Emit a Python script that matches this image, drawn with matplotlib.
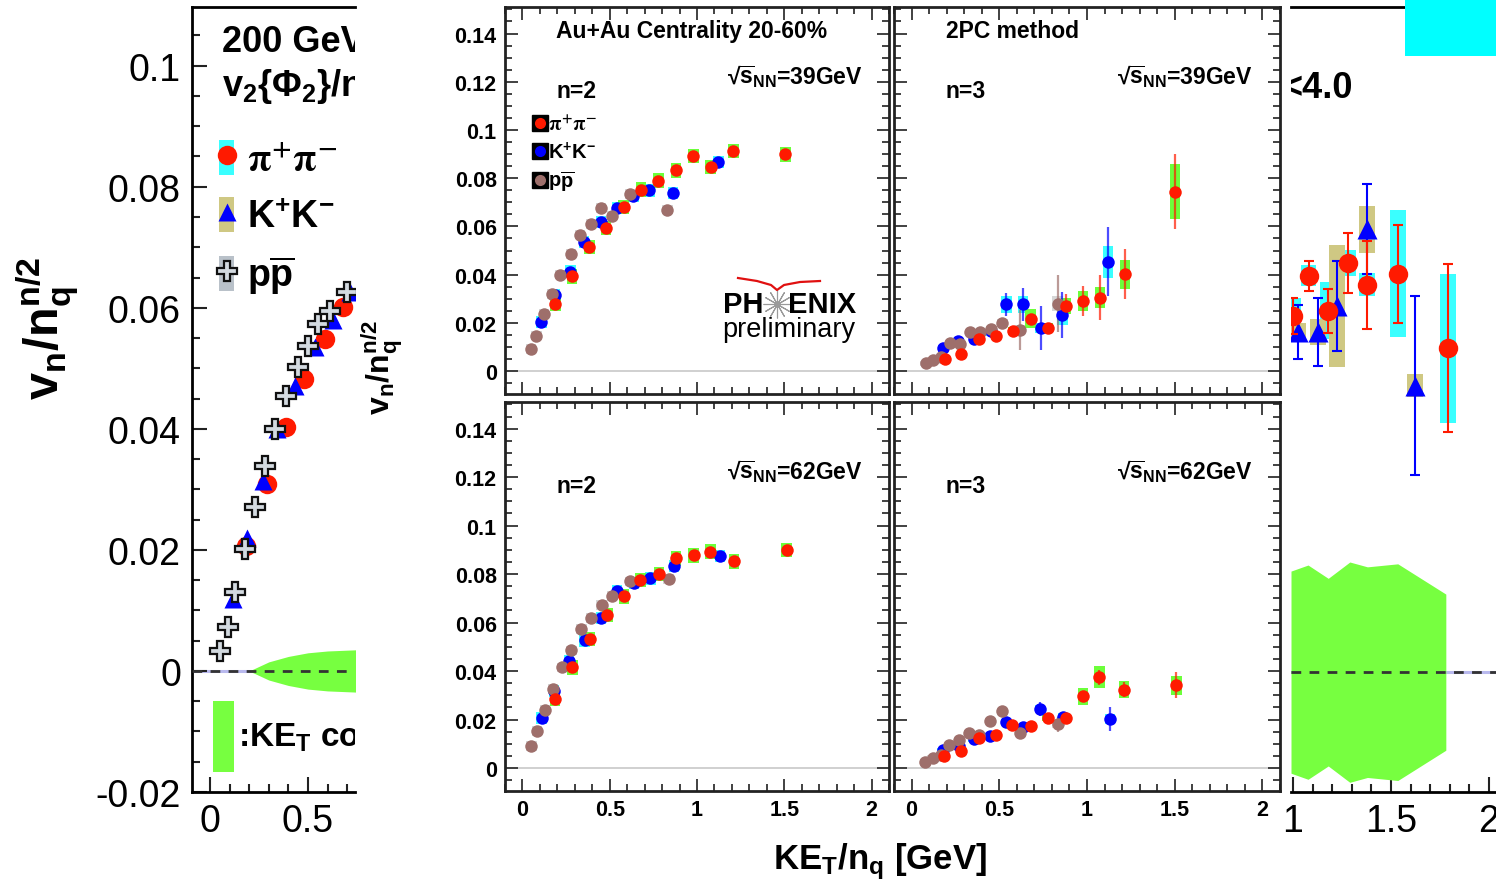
import numpy as np
import matplotlib
matplotlib.use('Agg')
import matplotlib.pyplot as plt
from matplotlib.patches import Rectangle
from matplotlib.lines import Line2D
from matplotlib.ticker import MultipleLocator, FuncFormatter

plt.rcParams['font.family'] = ['Liberation Sans', 'DejaVu Sans']
plt.rcParams['font.weight'] = 'bold'
plt.rcParams['mathtext.fontset'] = 'custom'
plt.rcParams['mathtext.rm'] = 'Liberation Sans:bold'
plt.rcParams['mathtext.it'] = 'Liberation Sans:bold'
plt.rcParams['mathtext.bf'] = 'Liberation Sans:bold'
plt.rcParams['mathtext.sf'] = 'Liberation Sans:bold'

RED = '#ff1a00'
BLUE = '#0000ff'
BROWN = '#9e6f6b'
GREEN = '#6cff3a'
CYAN = '#3affff'
OLIVE = '#cfc883'
LGREY = '#d6d6d6'
BAND = '#77ff40'

# ---------------- 200 GeV panel (left, cropped) ----------------
l_pi_x = [0.184, 0.29, 0.39, 0.48, 0.587, 0.68]
l_pi_y = [0.0207, 0.0309, 0.0403, 0.0483, 0.0549, 0.0602]
l_k_x = [0.117, 0.189, 0.27, 0.34, 0.434, 0.536, 0.628, 0.714]
l_k_y = [0.0119, 0.022, 0.0314, 0.040, 0.047, 0.0535, 0.058, 0.0626]
l_p_x = [0.051, 0.09, 0.127, 0.179, 0.23, 0.281, 0.332, 0.39, 0.45, 0.50, 0.551, 0.612, 0.70]
l_p_y = [0.0033, 0.0073, 0.013, 0.0202, 0.0271, 0.0339, 0.040, 0.0455, 0.0502, 0.0537, 0.0574, 0.0595, 0.0626]
l_band_x = [0.2, 0.3, 0.4, 0.5, 0.6, 0.75]
l_band_w = [0.0, 0.0015, 0.0024, 0.003, 0.0033, 0.0035]

# ---------------- right panel (cropped) ----------------
r_pi_x = [1.0, 1.08, 1.18, 1.28, 1.378, 1.536, 1.79]
r_pi_y = [0.0589, 0.0655, 0.0597, 0.0676, 0.064, 0.0658, 0.0535]
r_pi_stat = [0.003, 0.0025, 0.0036, 0.005, 0.0073, 0.0081, 0.0139]
r_pi_sys = [0.003, 0.0017, 0.0047, 0.0022, 0.0019, 0.0105, 0.0123]
r_k_x = [1.026, 1.128, 1.225, 1.378, 1.622]
r_k_y = [0.0562, 0.0562, 0.0605, 0.0732, 0.0473]
r_k_stat = [0.0044, 0.0056, 0.0074, 0.0074, 0.0148]
r_k_sys = [0.0015, 0.0022, 0.0101, 0.0039, 0.0019]
r_band_x = [0.99, 1.077, 1.18, 1.29, 1.38, 1.535, 1.78]
r_band_w = [0.0167, 0.0177, 0.0155, 0.0182, 0.0174, 0.0179, 0.0129]

# ---------------- 39 GeV, n=2 ----------------
t2_pi_x = [0.189, 0.284, 0.383, 0.48, 0.579, 0.68, 0.779, 0.88, 0.979, 1.078, 1.208, 1.507]
t2_pi_y = [0.0278, 0.0393, 0.0514, 0.0593, 0.068, 0.0753, 0.079, 0.0832, 0.0892, 0.0846, 0.0913, 0.0899]
t2_k_x = [0.108, 0.185, 0.274, 0.354, 0.451, 0.541, 0.636, 0.727, 0.861, 1.122]
t2_k_y = [0.0202, 0.0317, 0.0413, 0.0537, 0.062, 0.0677, 0.0728, 0.0749, 0.0738, 0.0867]
t2_p_x = [0.05, 0.08, 0.122, 0.17, 0.217, 0.278, 0.331, 0.392, 0.451, 0.512, 0.617, 0.83]
t2_p_y = [0.0091, 0.0147, 0.0237, 0.032, 0.04, 0.0486, 0.0566, 0.0611, 0.0676, 0.0645, 0.0735, 0.067]

# ---------------- 62 GeV, n=2 ----------------
b2_pi_x = [0.185, 0.286, 0.387, 0.486, 0.581, 0.676, 0.781, 0.88, 0.981, 1.076, 1.213, 1.514]
b2_pi_y = [0.0285, 0.0415, 0.0533, 0.0631, 0.0708, 0.0775, 0.08, 0.0865, 0.0877, 0.0893, 0.0852, 0.09]
b2_k_x = [0.11, 0.181, 0.267, 0.356, 0.451, 0.543, 0.638, 0.733, 0.867, 1.133]
b2_k_y = [0.0208, 0.0318, 0.044, 0.0526, 0.0618, 0.0731, 0.0762, 0.0782, 0.0835, 0.0874]
b2_p_x = [0.051, 0.082, 0.128, 0.175, 0.229, 0.28, 0.337, 0.394, 0.453, 0.514, 0.619, 0.838]
b2_p_y = [0.0091, 0.0152, 0.024, 0.0327, 0.0415, 0.0485, 0.0572, 0.0618, 0.0672, 0.071, 0.077, 0.078]
n2_sys = {'pi': 0.003, 'k': 0.0025, 'p': 0.002}

# ---------------- 39 GeV, n=3 ----------------
t3_pi_x = [0.188, 0.284, 0.384, 0.479, 0.578, 0.679, 0.778, 0.879, 0.978, 1.073, 1.216, 1.501]
t3_pi_y = [0.0049, 0.0069, 0.0132, 0.0146, 0.0166, 0.0218, 0.018, 0.027, 0.0291, 0.0305, 0.0402, 0.0744]
t3_pi_stat = [0.001, 0.001, 0.001, 0.001, 0.002, 0.002, 0.002, 0.005, 0.0062, 0.0094, 0.0105, 0.0156]
t3_pi_sys = [0.001, 0.001, 0.001, 0.001, 0.0015, 0.004, 0.002, 0.0035, 0.004, 0.0045, 0.006, 0.0113]
t3_k_x = [0.179, 0.267, 0.356, 0.455, 0.54, 0.636, 0.735, 0.86, 1.12]
t3_k_y = [0.0097, 0.0125, 0.0135, 0.0166, 0.0277, 0.0277, 0.018, 0.0231, 0.0454]
t3_k_stat = [0.001, 0.001, 0.001, 0.002, 0.0048, 0.0069, 0.0091, 0.0095, 0.0142]
t3_k_sys = [0.001, 0.001, 0.001, 0.002, 0.0035, 0.0035, 0.002, 0.004, 0.0066]
t3_p_x = [0.08, 0.122, 0.17, 0.221, 0.274, 0.332, 0.389, 0.455, 0.518, 0.617, 0.832]
t3_p_y = [0.0032, 0.0044, 0.0058, 0.0118, 0.0111, 0.0162, 0.0162, 0.0173, 0.0201, 0.017, 0.028]
t3_p_stat = [0.0, 0.0, 0.0, 0.001, 0.001, 0.001, 0.001, 0.002, 0.002, 0.0083, 0.0118]
t3_p_sys = [0.001, 0.001, 0.001, 0.001, 0.001, 0.001, 0.001, 0.0015, 0.0015, 0.002, 0.003]

# ---------------- 62 GeV, n=3 ----------------
b3_pi_x = [0.187, 0.282, 0.386, 0.481, 0.573, 0.681, 0.776, 0.881, 0.976, 1.071, 1.21, 1.509]
b3_pi_y = [0.0048, 0.0071, 0.0122, 0.0138, 0.0177, 0.0173, 0.0208, 0.0205, 0.0295, 0.0374, 0.0323, 0.0341]
b3_pi_stat = [0.0005, 0.0005, 0.0005, 0.001, 0.001, 0.001, 0.001, 0.002, 0.002, 0.003, 0.003, 0.0053]
b3_pi_sys = [0.001, 0.001, 0.001, 0.001, 0.001, 0.001, 0.0015, 0.0015, 0.0035, 0.0045, 0.0035, 0.0038]
b3_k_x = [0.177, 0.268, 0.354, 0.447, 0.539, 0.637, 0.733, 0.862, 1.132]
b3_k_y = [0.0073, 0.0091, 0.0118, 0.0132, 0.0191, 0.0168, 0.0244, 0.0212, 0.0202]
b3_k_stat = [0.0, 0.0, 0.0, 0.0, 0.001, 0.001, 0.003, 0.002, 0.0051]
b3_k_sys = [0.001, 0.001, 0.001, 0.001, 0.001, 0.001, 0.0015, 0.0015, 0.002]
b3_p_x = [0.078, 0.12, 0.167, 0.215, 0.272, 0.329, 0.386, 0.449, 0.516, 0.618, 0.833]
b3_p_y = [0.0025, 0.0043, 0.0055, 0.0094, 0.0115, 0.0145, 0.0136, 0.0195, 0.0235, 0.0145, 0.018]
b3_p_stat = [0.0, 0.0, 0.0, 0.0, 0.0, 0.0, 0.0, 0.0, 0.0, 0.001, 0.003]
b3_p_sys = [0.001, 0.001, 0.001, 0.001, 0.001, 0.001, 0.001, 0.001, 0.001, 0.001, 0.0015]

W, H = 1496, 887
fig = plt.figure(figsize=(W / 100, H / 100), dpi=100)


def rect(l, t, r, b):
    return [l / W, 1 - b / H, (r - l) / W, (b - t) / H]


def frac(ax, px, py):
    p = ax.get_position()
    return (px / W - p.x0) / p.width, (1 - py / H - p.y0) / p.height


def ptext(ax, px, py, s, **kw):
    fx, fy = frac(ax, px, py)
    return ax.text(fx, fy, s, transform=ax.transAxes, **kw)


def series(ax, x, y, color, boxc, sys, stat=None, ms=9, marker='o'):
    x = np.asarray(x)
    y = np.asarray(y)
    sys = np.broadcast_to(np.asarray(sys, dtype=float), y.shape)
    ax.bar(x, 2 * sys, bottom=y - sys, width=0.06, color=boxc, lw=0, zorder=1)
    if stat is not None:
        ax.errorbar(x, y, yerr=stat, fmt='none', ecolor=color, elinewidth=1.6, alpha=0.7, zorder=2)
    ax.plot(x, y, ls='none', marker=marker, color=color, ms=ms, mec='none', zorder=3)


fmt = FuncFormatter(lambda v, p: '%g' % (round(v, 3) + 0.0))


def style_mid(ax, xlab, ylab):
    ax.set_xlim(-0.1, 2.1)
    ax.set_ylim(-0.0095, 0.151)
    ax.xaxis.set_major_locator(MultipleLocator(0.5))
    ax.xaxis.set_minor_locator(MultipleLocator(0.1))
    ax.yaxis.set_major_locator(MultipleLocator(0.02))
    ax.yaxis.set_minor_locator(MultipleLocator(0.005))
    ax.xaxis.set_major_formatter(fmt)
    ax.yaxis.set_major_formatter(fmt)
    ax.tick_params(which='both', direction='in', top=True, right=True, width=1.3,
                   color='#333333', labelsize=15.5)
    ax.tick_params(which='major', length=9, pad=6)
    ax.tick_params(which='minor', length=5)
    ax.tick_params(labelbottom=xlab, labelleft=ylab)
    for s in ax.spines.values():
        s.set_linewidth(2)
        s.set_color('#222222')
    ax.axhline(0, color='#c8c8c8', lw=1.2, zorder=0)


# ---------------- middle 2x2 panels ----------------
axTL = fig.add_axes(rect(505, 8, 889, 395))
axTR = fig.add_axes(rect(894, 8, 1280, 395))
axBL = fig.add_axes(rect(505, 403, 889, 792))
axBR = fig.add_axes(rect(894, 403, 1280, 792))
style_mid(axTL, False, True)
style_mid(axTR, False, False)
style_mid(axBL, True, True)
style_mid(axBR, True, False)

series(axTL, t2_k_x, t2_k_y, BLUE, CYAN, n2_sys['k'])
series(axTL, t2_p_x, t2_p_y, BROWN, LGREY, n2_sys['p'])
series(axTL, t2_pi_x, t2_pi_y, RED, GREEN, n2_sys['pi'])
series(axBL, b2_k_x, b2_k_y, BLUE, CYAN, n2_sys['k'])
series(axBL, b2_p_x, b2_p_y, BROWN, LGREY, n2_sys['p'])
series(axBL, b2_pi_x, b2_pi_y, RED, GREEN, n2_sys['pi'])
series(axTR, t3_k_x, t3_k_y, BLUE, CYAN, t3_k_sys, t3_k_stat)
series(axTR, t3_p_x, t3_p_y, BROWN, LGREY, t3_p_sys, t3_p_stat)
series(axTR, t3_pi_x, t3_pi_y, RED, GREEN, t3_pi_sys, t3_pi_stat)
series(axBR, b3_k_x, b3_k_y, BLUE, CYAN, b3_k_sys, b3_k_stat)
series(axBR, b3_p_x, b3_p_y, BROWN, LGREY, b3_p_sys, b3_p_stat)
series(axBR, b3_pi_x, b3_pi_y, RED, GREEN, b3_pi_sys, b3_pi_stat)

ptext(axTL, 556, 31, "Au+Au Centrality 20-60%", fontsize=16.5, va='center')
ptext(axTR, 946, 31, "2PC method", fontsize=16.5, va='center')
for ax, px, py, n, e in [(axTL, 556, 92, 2, 39), (axTR, 946, 92, 3, 39),
                         (axBL, 556, 487, 2, 62), (axBR, 946, 487, 3, 62)]:
    ptext(ax, px, py, "n=%d" % n, fontsize=16.5, va='center')
    ptext(ax, px + 307, py - 15, "\u221a" + r"$\overline{\rm s}_{\rm NN}$=%dGeV" % e,
          fontsize=16.5, va='center', ha='right')

mid_handles = [(Line2D([], [], ls='none', marker='s', color='k', ms=11),
                Line2D([], [], ls='none', marker='o', color=c, ms=8, mec='none'))
               for c in (RED, BLUE, BROWN)]
leg = axTL.legend(mid_handles, [r"$\mathrm{\pi^{+}\pi^{-}}$", r"K$^{+}$K$^{-}$", r"p$\overline{\rm p}$"],
                  loc='upper left', bbox_to_anchor=frac(axTL, 534, 115), frameon=False,
                  fontsize=14.5, handlelength=0.6, handletextpad=0.1, labelspacing=0.32,
                  borderaxespad=0, borderpad=0)
leg.get_texts()[0].set_math_fontfamily('stix')

# PHENIX preliminary logo
ptext(axTL, 723, 305, "PH", fontsize=21, va='center')
ptext(axTL, 788, 305, "ENIX", fontsize=21, va='center')
sx, sy = frac(axTL, 777, 305)
axTL.plot([sx], [sy], marker=(12, 2, 0), ms=20, mec='#9a9a9a', mew=0.8, transform=axTL.transAxes)
sw = np.array([[738, 279], [757, 282], [771, 286], [777, 291], [784, 286], [800, 283], [820, 282]])
axTL.plot([frac(axTL, a, b)[0] for a, b in sw], [frac(axTL, a, b)[1] for a, b in sw],
          color='#e01010', lw=1.6, transform=axTL.transAxes)
ptext(axTL, 722, 330, "preliminary", fontsize=19.5, fontweight='normal', va='center')

# ---------------- left (200 GeV) panel ----------------
axL = fig.add_axes(rect(192, 8, 355, 793))
axL.set_xlim(-0.092, 0.74)
axL.set_ylim(-0.02, 0.1097)
axL.spines['right'].set_visible(False)
for s in ('left', 'bottom', 'top'):
    axL.spines[s].set_linewidth(2)
axL.axhline(0, color='#b9b9ee', lw=2.2, zorder=1)
axL.fill_between(l_band_x, -np.array(l_band_w), l_band_w, color=BAND, lw=0, zorder=2)
axL.axhline(0, color='#333333', lw=2, ls=(0, (3.5, 3)), zorder=3)
axL.plot(l_pi_x, l_pi_y, 'o', color=RED, ms=14, mec='none', zorder=4)
axL.plot(l_k_x, l_k_y, '^', color=BLUE, ms=13, mec='none', zorder=5)
axL.plot(l_p_x, l_p_y, 'P', mfc='#d3dae0', mec='#111111', mew=1.6, ms=15, zorder=6)
ylv = [-0.02, 0, 0.02, 0.04, 0.06, 0.08, 0.1]
axL.set_yticks(ylv, labels=['%g' % v for v in ylv], fontweight='normal', fontsize=27)
axL.set_xticks([0, 0.5], labels=['0', '0.5'], fontweight='normal', fontsize=27)
axL.yaxis.set_minor_locator(MultipleLocator(0.005))
axL.xaxis.set_minor_locator(MultipleLocator(0.1))
axL.tick_params(which='both', direction='in', width=1.5, color='#222222')
axL.tick_params(which='major', length=11, pad=8)
axL.tick_params(which='minor', length=6)

ptext(axL, 222, 42, "200 GeV", fontsize=26, va='center', clip_on=True)
ptext(axL, 222, 88, r"v$_2${$\Phi_2$}/n$_q$", fontsize=26, va='center', clip_on=True)
left_handles = [
    (Rectangle((0, 0), 1, 1, fc=CYAN, ec='none'),
     Line2D([], [], ls='none', marker='o', color=RED, ms=14, mec='none')),
    (Rectangle((0, 0), 1, 1, fc=OLIVE, ec='none'),
     Line2D([], [], ls='none', marker='^', color=BLUE, ms=13, mec='none')),
    (Rectangle((0, 0), 1, 1, fc='#b9c1c9', ec='none'),
     Line2D([], [], ls='none', marker='P', mfc='#d3dae0', mec='#111111', mew=1.6, ms=15)),
]
legL = axL.legend(left_handles, [r"$\mathrm{\pi^{+}\pi^{-}}$", r"K$^{+}$K$^{-}$", r"p$\overline{\rm p}$"],
                  loc='upper left', bbox_to_anchor=frac(axL, 219, 141), frameon=False,
                  fontsize=27, handlelength=0.4, handleheight=1.05, handletextpad=0.35,
                  labelspacing=0.5, borderaxespad=0, borderpad=0)
legL.get_texts()[0].set_math_fontfamily('stix')
legL.get_texts()[0].set_fontweight('normal')
gx, gy = frac(axL, 213, 773)
axL.add_patch(Rectangle((gx, gy), 21 / 163, 71 / 785, transform=axL.transAxes, fc=BAND, ec='none'))
ptext(axL, 238, 737, r":KE$_T$ correlated", fontsize=24, va='center', clip_on=True)

# ---------------- right panel ----------------
axR = fig.add_axes(rect(1291, 8, 1496, 793))
axR.set_xlim(0.99, 2.036)
axR.set_ylim(-0.0198, 0.1099)
axR.spines['left'].set_visible(False)
axR.spines['right'].set_visible(False)
for s in ('bottom', 'top'):
    axR.spines[s].set_linewidth(2)
axR.axhline(0, color='#b9b9ee', lw=2.2, zorder=1)
axR.fill_between(r_band_x, -np.array(r_band_w), r_band_w, color=BAND, lw=0, zorder=2)
axR.axhline(0, color='#333333', lw=2, ls=(0, (3.5, 3)), zorder=3)
axR.bar(r_pi_x, 2 * np.array(r_pi_sys), bottom=np.array(r_pi_y) - r_pi_sys, width=0.08,
        color=CYAN, lw=0, zorder=4)
axR.bar(r_k_x, 2 * np.array(r_k_sys), bottom=np.array(r_k_y) - r_k_sys, width=0.08,
        color=OLIVE, lw=0, zorder=4)
axR.errorbar(r_k_x, r_k_y, yerr=r_k_stat, fmt='^', color=BLUE, ms=14, mec='none',
             elinewidth=1.5, capsize=3.5, capthick=1.5, zorder=5)
axR.errorbar(r_pi_x, r_pi_y, yerr=r_pi_stat, fmt='o', color=RED, ms=14, mec='none',
             elinewidth=1.5, capsize=3.5, capthick=1.5, zorder=6)
axR.set_xticks([1, 1.5, 2], labels=['1', '1.5', '2'], fontweight='normal', fontsize=27)
axR.xaxis.set_minor_locator(MultipleLocator(0.1))
axR.set_yticks([])
axR.tick_params(which='both', direction='in', width=1.5, color='#222222')
axR.tick_params(which='major', length=11, pad=8)
axR.tick_params(which='minor', length=6)
ptext(axR, 1353, 88, "<4.0", fontsize=26, va='center', ha='right', clip_on=True)

fig.add_artist(Rectangle((1405 / W, 1 - 57 / H), 91 / W, 57 / H, transform=fig.transFigure,
                         fc='#00ffff', ec='none', zorder=20))

# axis titles
fig.text(48 / W, 1 - 328 / H, r"v$_n$/n$_q^{n/2}$", rotation=90, fontsize=35,
         ha='center', va='center')
fig.text(382 / W, 1 - 368 / H, r"v$_n$/n$_q^{n/2}$", rotation=90, fontsize=23,
         ha='center', va='center')
fig.text(880 / W, 1 - 862 / H, r"KE$_T$/n$_q$ [GeV]", fontsize=25, ha='center', va='center')

fig.savefig('out.png', dpi=100)
